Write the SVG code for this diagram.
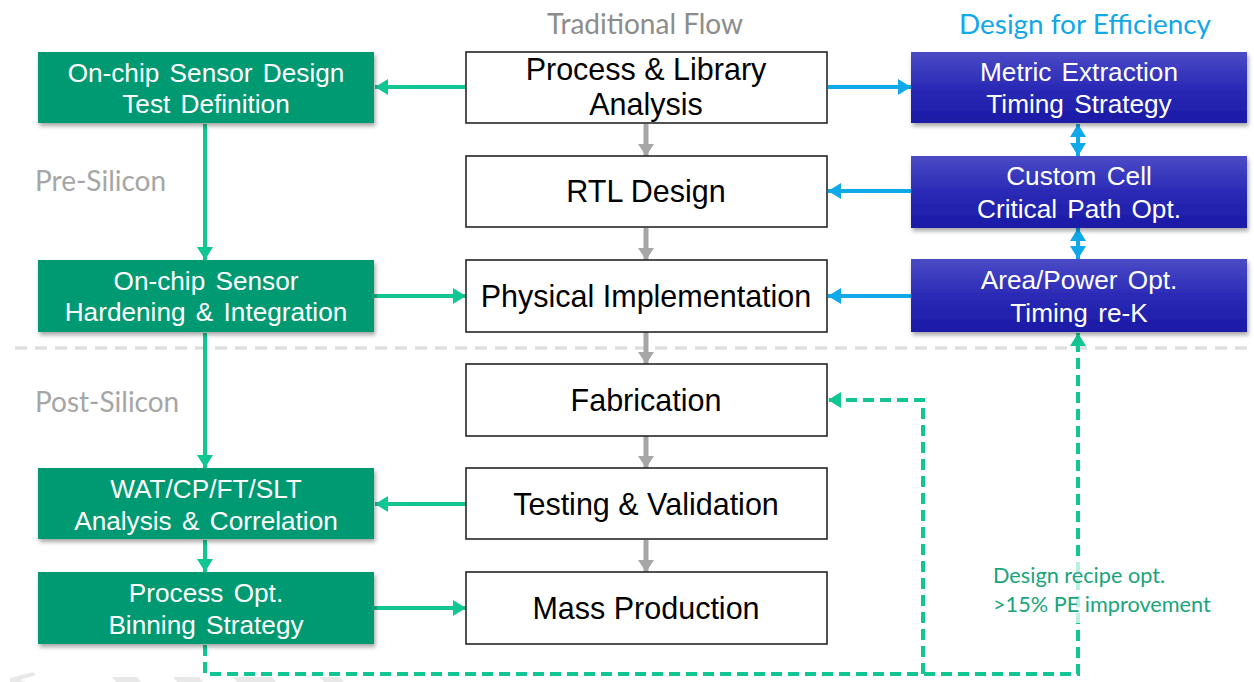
<svg xmlns="http://www.w3.org/2000/svg" width="1254" height="682" viewBox="0 0 1254 682">
  <style>
    .title { font-family: Lato, "Open Sans", sans-serif; }
    .side { font-family: Lato, "Open Sans", sans-serif; font-size: 28px; fill: #a6a6a6; }
    .box-green rect { fill: #039a72; }
    .box-blue rect { fill: url(#blueFill); }
    .box-white rect { fill: #ffffff; stroke: #262626; stroke-width: 1.6; }
    .lbl { font-family: "Liberation Sans", Arial, sans-serif; font-size: 26.2px; fill: #ffffff; text-anchor: middle; word-spacing: 3px; }
    .lbl-dark { font-family: "Liberation Sans", Arial, sans-serif; font-size: 30.5px; fill: #000000; text-anchor: middle; }
    .c-green { stroke: #12c693; stroke-width: 4; fill: none; }
    .c-blue { stroke: #0fa9ea; stroke-width: 4; fill: none; }
    .c-grey { stroke: #a6a6a6; stroke-width: 5; fill: none; }
    .dashed { stroke-dasharray: 11 6; }
    .note { font-family: Lato, "Open Sans", sans-serif; font-size: 21.7px; fill: #1aa47b; }
  </style>
  <defs>
    <linearGradient id="blueFill" x1="0" y1="0" x2="0" y2="1">
      <stop offset="0" stop-color="#4b4bc6"/>
      <stop offset="0.5" stop-color="#2a2ab6"/>
      <stop offset="1" stop-color="#1a1aa6"/>
    </linearGradient>
    <filter id="shadow" x="-5%" y="-10%" width="112%" height="130%">
      <feDropShadow dx="1.5" dy="3" stdDeviation="2" flood-color="#000" flood-opacity="0.35"/>
    </filter>
    <marker id="ahGreen" markerUnits="userSpaceOnUse" markerWidth="13" markerHeight="16" refX="13" refY="8" orient="auto-start-reverse">
      <path d="M0,0 L13,8 L0,16 z" fill="#12c693"/>
    </marker>
    <marker id="ahBlue" markerUnits="userSpaceOnUse" markerWidth="13" markerHeight="16" refX="13" refY="8" orient="auto-start-reverse">
      <path d="M0,0 L13,8 L0,16 z" fill="#0fa9ea"/>
    </marker>
    <marker id="ahGrey" markerUnits="userSpaceOnUse" markerWidth="12" markerHeight="16" refX="12" refY="8" orient="auto">
      <path d="M0,0 L12,8 L0,16 z" fill="#a6a6a6"/>
    </marker>
  </defs>

  <rect width="1254" height="682" fill="#ffffff"/>

  <!-- column and phase headings -->
  <text class="title" x="645" y="34" font-size="28" fill="#8c8c8c" text-anchor="middle">Traditional Flow</text>
  <text class="title" x="1085" y="34" font-size="27.9" fill="#10a8e8" text-anchor="middle">Design for Efficiency</text>
  <text class="side" x="35" y="191">Pre-Silicon</text>
  <text class="side" x="35" y="412">Post-Silicon</text>

  <!-- pre/post silicon divider -->
  <line x1="15" y1="348" x2="1254" y2="348" stroke="#e0e0e0" stroke-width="3.5" stroke-dasharray="12 8"/>

  <!-- faint chevrons along the lower edge -->
  <g fill="#e8e8e8">
    <polygon points="10,678 33,672 36,675 20,680 36,685 10,685"/>
    <polygon points="112,677 137,677 141,682 116,682"/>
    <polygon points="173,677 199,677 203,682 177,682"/>
    <polygon points="233,677 272,677 276,682 237,682"/>
    <polygon points="320,677 340,677 344,682 324,682"/>
  </g>

  <!-- connectors -->
  <g id="connectors">
    <!-- traditional flow -->
    <line class="c-grey" x1="646" y1="124" x2="646" y2="156" marker-end="url(#ahGrey)"/>
    <line class="c-grey" x1="646" y1="228" x2="646" y2="260" marker-end="url(#ahGrey)"/>
    <line class="c-grey" x1="646" y1="332" x2="646" y2="364" marker-end="url(#ahGrey)"/>
    <line class="c-grey" x1="646" y1="436" x2="646" y2="468" marker-end="url(#ahGrey)"/>
    <line class="c-grey" x1="646" y1="540" x2="646" y2="572" marker-end="url(#ahGrey)"/>

    <!-- on-chip sensor path -->
    <line class="c-green" x1="466" y1="87" x2="375" y2="87" marker-end="url(#ahGreen)"/>
    <line class="c-green" x1="205" y1="124" x2="205" y2="260" marker-end="url(#ahGreen)"/>
    <line class="c-green" x1="374" y1="296" x2="466" y2="296" marker-end="url(#ahGreen)"/>
    <line class="c-green" x1="205" y1="333" x2="205" y2="468" marker-end="url(#ahGreen)"/>
    <line class="c-green" x1="466" y1="504" x2="375" y2="504" marker-end="url(#ahGreen)"/>
    <line class="c-green" x1="205" y1="540" x2="205" y2="572" marker-end="url(#ahGreen)"/>
    <line class="c-green" x1="374" y1="608" x2="466" y2="608" marker-end="url(#ahGreen)"/>

    <!-- feedback loop -->
    <path class="c-green dashed" d="M205,645 V674 H1078 V333" marker-end="url(#ahGreen)"/>
    <path class="c-green dashed" d="M923,674 V400 H828" marker-end="url(#ahGreen)"/>

    <!-- design-for-efficiency links -->
    <line class="c-blue" x1="828" y1="87" x2="911" y2="87" marker-end="url(#ahBlue)"/>
    <line class="c-blue" x1="911" y1="191" x2="828" y2="191" marker-end="url(#ahBlue)"/>
    <line class="c-blue" x1="911" y1="296" x2="828" y2="296" marker-end="url(#ahBlue)"/>
    <line class="c-blue" x1="1078" y1="124" x2="1078" y2="156" marker-start="url(#ahBlue)" marker-end="url(#ahBlue)"/>
    <line class="c-blue" x1="1078" y1="228" x2="1078" y2="259" marker-start="url(#ahBlue)" marker-end="url(#ahBlue)"/>
  </g>

  <!-- loop annotation -->
  <g id="note">
    <rect x="980" y="557" width="245" height="66" fill="#ffffff" fill-opacity="0.72"/>
    <text class="note" x="993" y="583">Design recipe opt.</text>
    <text class="note" x="993" y="612">&gt;15% PE improvement</text>
  </g>

  <!-- on-chip sensor column -->
  <g id="sensor-design" class="box-green">
    <rect x="38" y="52" width="336" height="71" filter="url(#shadow)"/>
    <text class="lbl" x="206" y="82">On-chip Sensor Design</text>
    <text class="lbl" x="206" y="113">Test Definition</text>
  </g>
  <g id="sensor-hardening" class="box-green">
    <rect x="38" y="260" width="336" height="72" filter="url(#shadow)"/>
    <text class="lbl" x="206" y="290">On-chip Sensor</text>
    <text class="lbl" x="206" y="321">Hardening &amp; Integration</text>
  </g>
  <g id="test-analysis" class="box-green">
    <rect x="38" y="468" width="336" height="71" filter="url(#shadow)"/>
    <text class="lbl" x="206" y="498">WAT/CP/FT/SLT</text>
    <text class="lbl" x="206" y="530">Analysis &amp; Correlation</text>
  </g>
  <g id="binning" class="box-green">
    <rect x="38" y="572" width="336" height="72" filter="url(#shadow)"/>
    <text class="lbl" x="206" y="602">Process Opt.</text>
    <text class="lbl" x="206" y="634">Binning Strategy</text>
  </g>

  <!-- traditional flow column -->
  <g id="process-library" class="box-white">
    <rect x="466" y="52" width="361" height="71"/>
    <text class="lbl-dark" x="646" y="80">Process &amp; Library</text>
    <text class="lbl-dark" x="646" y="115">Analysis</text>
  </g>
  <g id="rtl-design" class="box-white">
    <rect x="466" y="156" width="361" height="71"/>
    <text class="lbl-dark" x="646" y="202">RTL Design</text>
  </g>
  <g id="physical-impl" class="box-white">
    <rect x="466" y="260" width="361" height="72"/>
    <text class="lbl-dark" x="646" y="307">Physical Implementation</text>
  </g>
  <g id="fabrication" class="box-white">
    <rect x="466" y="364" width="361" height="72"/>
    <text class="lbl-dark" x="646" y="411">Fabrication</text>
  </g>
  <g id="testing" class="box-white">
    <rect x="466" y="468" width="361" height="71"/>
    <text class="lbl-dark" x="646" y="515">Testing &amp; Validation</text>
  </g>
  <g id="mass-production" class="box-white">
    <rect x="466" y="572" width="361" height="72"/>
    <text class="lbl-dark" x="646" y="619">Mass Production</text>
  </g>

  <!-- design for efficiency column -->
  <g id="metric-extraction" class="box-blue">
    <rect x="911" y="52" width="336" height="71" filter="url(#shadow)"/>
    <text class="lbl" x="1079" y="81">Metric Extraction</text>
    <text class="lbl" x="1079" y="113">Timing Strategy</text>
  </g>
  <g id="custom-cell" class="box-blue">
    <rect x="911" y="156" width="336" height="72" filter="url(#shadow)"/>
    <text class="lbl" x="1079" y="185">Custom Cell</text>
    <text class="lbl" x="1079" y="218">Critical Path Opt.</text>
  </g>
  <g id="area-power" class="box-blue">
    <rect x="911" y="259" width="336" height="73" filter="url(#shadow)"/>
    <text class="lbl" x="1079" y="289">Area/Power Opt.</text>
    <text class="lbl" x="1079" y="322">Timing re-K</text>
  </g>
</svg>
